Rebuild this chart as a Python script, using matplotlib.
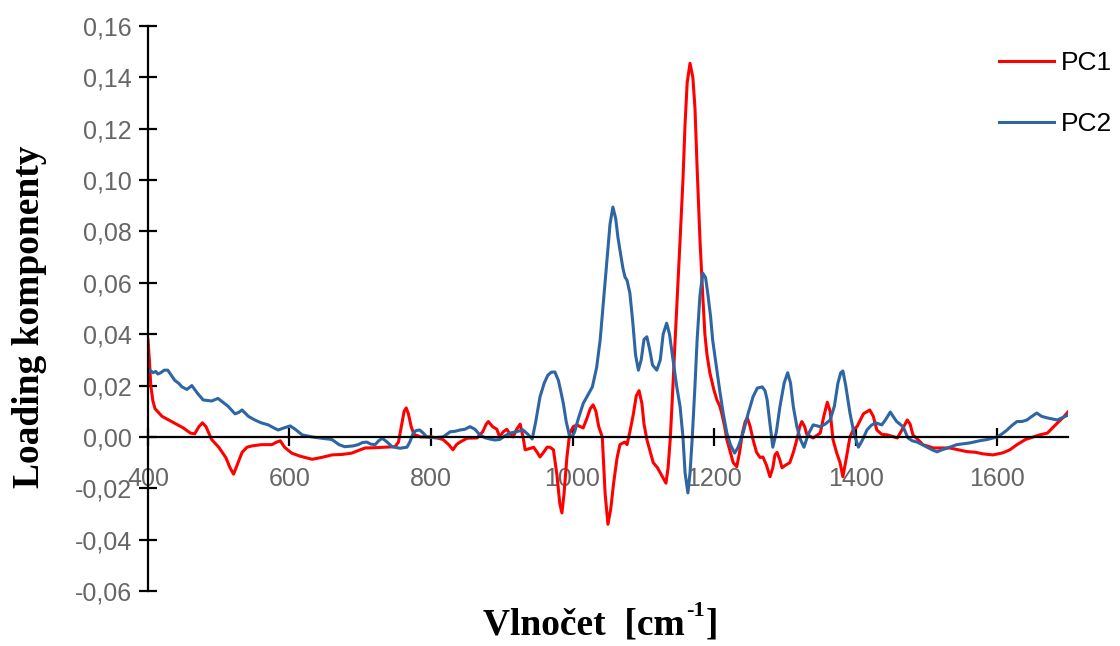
import matplotlib
matplotlib.use("Agg")
import matplotlib.pyplot as plt
from matplotlib.ticker import FuncFormatter, MultipleLocator

# Loading values
pc1_x = [400, 402, 404, 407, 410, 415, 420, 430, 440, 450, 460, 466, 472, 477, 482, 490, 500, 510, 516, 521,
         526, 533, 540, 547, 560, 575, 582, 587, 593, 603, 615, 632, 645, 660, 675, 688, 700, 707, 720, 735,
         749, 754, 758, 762, 765, 768, 772, 776, 785, 800, 810, 817, 825, 831, 836, 841, 851, 865, 873, 878,
         881, 887, 893, 897, 902, 907, 912, 916, 921, 926, 930, 933, 940, 945, 950, 954, 959, 964, 968, 973,
         978, 982, 985, 988, 992, 996, 1001, 1006, 1011, 1015, 1020, 1025, 1029, 1033, 1037, 1042, 1046, 1050,
         1054, 1058, 1063, 1067, 1070, 1074, 1077, 1081, 1086, 1090, 1094, 1098, 1101, 1105, 1110, 1114, 1120,
         1124, 1128, 1132, 1135, 1138, 1141, 1145, 1149, 1152, 1156, 1159, 1162, 1166, 1170, 1173, 1176, 1180,
         1184, 1187, 1190, 1194, 1200, 1204, 1208, 1211, 1215, 1218, 1223, 1227, 1232, 1236, 1240, 1244, 1247,
         1251, 1255, 1260, 1265, 1269, 1274, 1279, 1283, 1286, 1289, 1293, 1296, 1301, 1307, 1312, 1317, 1321,
         1324, 1328, 1331, 1340, 1350, 1355, 1360, 1364, 1368, 1373, 1378, 1382, 1387, 1392, 1397, 1402, 1411,
         1420, 1425, 1430, 1437, 1445, 1459, 1466, 1473, 1477, 1481, 1488, 1495, 1510, 1533, 1545, 1557, 1570,
         1580, 1594, 1608, 1618, 1628, 1640, 1651, 1660, 1671, 1680, 1685, 1693, 1700]
pc1_y = [0.038, 0.030, 0.020, 0.014, 0.011, 0.0095, 0.008, 0.0065, 0.005, 0.0035, 0.0015, 0.0012, 0.004,
         0.0055, 0.004, -0.001, -0.004, -0.008, -0.012, -0.0145, -0.011, -0.006, -0.004, -0.0035, -0.003,
         -0.003, -0.002, -0.0015, -0.004, -0.0063, -0.0075, -0.0087, -0.008, -0.007, -0.0068, -0.0063, -0.005,
         -0.0043, -0.0042, -0.004, -0.0038, -0.002, 0.004, 0.010, 0.0113, 0.009, 0.004, 0.001, 0.0, 0.0,
         -0.0005, -0.001, -0.003, -0.005, -0.003, -0.002, -0.0005, -0.0004, 0.002, 0.005, 0.006, 0.004, 0.003,
         0.0, 0.002, 0.003, 0.001, 0.0, 0.003, 0.005, 0.0, -0.005, -0.0045, -0.004, -0.006, -0.0078, -0.006,
         -0.004, -0.004, -0.005, -0.015, -0.026, -0.0296, -0.022, -0.008, 0.0015, 0.004, 0.0047, 0.004,
         0.0035, 0.007, 0.011, 0.0125, 0.010, 0.004, 0.0, -0.022, -0.034, -0.028, -0.018, -0.008, -0.003,
         -0.0025, -0.002, -0.003, 0.002, 0.009, 0.016, 0.018, 0.013, 0.005, -0.001, -0.006, -0.010, -0.012,
         -0.014, -0.016, -0.018, -0.012, -0.001, 0.015, 0.038, 0.060, 0.077, 0.100, 0.122, 0.138, 0.1455,
         0.140, 0.128, 0.105, 0.077, 0.055, 0.040, 0.032, 0.025, 0.018, 0.0144, 0.012, 0.009, 0.004, -0.001,
         -0.006, -0.010, -0.0116, -0.006, 0.0015, 0.006, 0.0074, 0.004, -0.001, -0.006, -0.008, -0.0078,
         -0.011, -0.0155, -0.012, -0.007, -0.006, -0.009, -0.012, -0.011, -0.010, -0.006, -0.001, 0.004,
         0.006, 0.004, 0.001, -0.0004, 0.0015, 0.008, 0.0135, 0.010, -0.001, -0.006, -0.010, -0.0155, -0.008,
         0.0, 0.003, 0.004, 0.009, 0.0105, 0.008, 0.0027, 0.001, 0.0008, -0.0004, 0.003, 0.0066, 0.005,
         0.0008, -0.001, -0.003, -0.0043, -0.0043, -0.005, -0.0057, -0.006, -0.0066, -0.007, -0.0062, -0.005,
         -0.003, -0.001, 0.0, 0.0008, 0.0015, 0.004, 0.0054, 0.0075, 0.0097]

pc2_x = [400, 403, 407, 411, 414, 418, 423, 428, 433, 438, 443, 448, 455, 462, 470, 478, 490, 499, 506, 513,
         518, 523, 528, 533, 542, 551, 560, 570, 578, 584, 592, 601, 608, 618, 632, 645, 660, 670, 678, 690,
         697, 703, 709, 715, 721, 726, 731, 738, 745, 756, 766, 770, 775, 779, 784, 789, 794, 805, 817, 827,
         834, 841, 848, 855, 862, 869, 876, 883, 890, 897, 905, 912, 920, 930, 937, 943, 948, 954, 960, 965,
         970, 975, 980, 984, 987, 991, 996, 1000, 1003, 1008, 1015, 1021, 1028, 1034, 1039, 1044, 1049, 1053,
         1057, 1061, 1064, 1067, 1071, 1074, 1077, 1081, 1085, 1089, 1093, 1097, 1101, 1105, 1109, 1113, 1119,
         1124, 1128, 1133, 1137, 1142, 1147, 1152, 1156, 1159, 1163, 1166, 1169, 1173, 1176, 1180, 1184, 1188,
         1191, 1195, 1198, 1203, 1208, 1213, 1218, 1223, 1229, 1234, 1241, 1248, 1255, 1261, 1268, 1272, 1275,
         1279, 1283, 1288, 1293, 1299, 1304, 1308, 1312, 1317, 1322, 1327, 1333, 1340, 1350, 1357, 1364, 1370,
         1375, 1379, 1382, 1386, 1392, 1398, 1404, 1410, 1416, 1422, 1428, 1437, 1443, 1449, 1453, 1458, 1467,
         1474, 1480, 1487, 1494, 1501, 1508, 1515, 1522, 1529, 1543, 1562, 1575, 1586, 1600, 1607, 1614, 1621,
         1628, 1635, 1642, 1649, 1656, 1663, 1671, 1678, 1685, 1692, 1700]
pc2_y = [0.025, 0.026, 0.025, 0.0255, 0.0245, 0.025, 0.026, 0.026, 0.024, 0.022, 0.021, 0.0195, 0.0185, 0.020,
         0.017, 0.0144, 0.014, 0.015, 0.0135, 0.012, 0.0105, 0.009, 0.0095, 0.0105, 0.008, 0.0066, 0.0055,
         0.0047, 0.0035, 0.0027, 0.0035, 0.0043, 0.003, 0.0008, 0.0, -0.0005, -0.001, -0.003, -0.0038, -0.0035,
         -0.003, -0.0022, -0.002, -0.0028, -0.003, -0.0015, -0.0005, -0.002, -0.0038, -0.0044, -0.004, -0.002,
         0.0016, 0.0025, 0.0027, 0.0015, 0.0, -0.0003, 0.0, 0.002, 0.0022, 0.0027, 0.003, 0.004, 0.003, 0.0008,
         -0.0003, -0.0008, -0.0012, -0.001, 0.0005, 0.0015, 0.002, 0.0027, 0.001, -0.0008, 0.006, 0.0156, 0.021,
         0.024, 0.0252, 0.0253, 0.022, 0.017, 0.013, 0.006, 0.0, 0.0005, 0.002, 0.007, 0.013, 0.016, 0.0195,
         0.027, 0.0377, 0.054, 0.070, 0.083, 0.0895, 0.085, 0.078, 0.0727, 0.066, 0.0623, 0.061, 0.056, 0.045,
         0.032, 0.026, 0.030, 0.038, 0.039, 0.034, 0.028, 0.026, 0.030, 0.040, 0.0443, 0.040, 0.030, 0.020,
         0.0117, 0.0, -0.014, -0.0218, -0.014, -0.001, 0.020, 0.0377, 0.055, 0.0638, 0.062, 0.056, 0.047,
         0.0377, 0.028, 0.018, 0.009, 0.0016, -0.003, -0.0063, -0.004, 0.0016, 0.009, 0.0156, 0.019, 0.0195,
         0.018, 0.0144, 0.005, -0.004, 0.002, 0.0117, 0.021, 0.025, 0.021, 0.0117, 0.004, -0.001, -0.004, 0.001,
         0.0047, 0.004, 0.005, 0.0066, 0.012, 0.021, 0.025, 0.0257, 0.020, 0.0093, 0.001, -0.004, -0.001,
         0.0027, 0.0045, 0.0055, 0.0047, 0.007, 0.0097, 0.008, 0.006, 0.004, -0.0004, -0.0015, -0.002, -0.003,
         -0.004, -0.005, -0.0058, -0.005, -0.0044, -0.003, -0.0023, -0.0015, -0.001, 0.0, 0.0012, 0.0027,
         0.0045, 0.006, 0.006, 0.0066, 0.008, 0.0093, 0.008, 0.0074, 0.007, 0.0066, 0.0075, 0.0085]

x_ticks = [400, 600, 800, 1000, 1200, 1400, 1600]

plt.rcParams['font.family'] = ['Liberation Sans', 'DejaVu Sans']

fig = plt.figure(figsize=(11.2, 6.46), dpi=100)
ax = fig.add_axes([0.1321, 0.0851, 0.8214, 0.8746])

ax.plot(pc1_x, pc1_y, color='#ff0000', lw=2.2, label='PC1')
ax.plot(pc2_x, pc2_y, color='#2e66a3', lw=2.2, label='PC2')

ax.set_xlim(400, 1700)
ax.set_ylim(-0.06, 0.16)
ax.set_xticks(x_ticks)
ax.yaxis.set_major_locator(MultipleLocator(0.02))
ax.yaxis.set_major_formatter(FuncFormatter(lambda v, p: f"{v:.2f}".replace('.', ',')))

# Excel-like axes: x axis crossing at zero
for side in ['top', 'right']:
    ax.spines[side].set_visible(False)
ax.spines['bottom'].set_position(('data', 0))
ax.spines['bottom'].set_linewidth(1.6)
ax.spines['left'].set_linewidth(1.6)
ax.tick_params(axis='both', direction='inout', length=13, width=1.6, colors='black',
               labelcolor='#666666', labelsize=18)
ax.tick_params(axis='x', pad=15)
ax.tick_params(axis='y', pad=5)

# x label with a small raised "-1"
xl = fig.text(483 / 1120, 1 - 625 / 646, 'Vlnočet  [cm', family='Liberation Serif',
              fontweight='bold', fontsize=27, ha='left', va='center')
fig.canvas.draw()
bb = xl.get_window_extent()
sup = fig.text(bb.x1 / 1120 + 0.001, 1 - 611 / 646, '-1', family='Liberation Serif',
               fontweight='bold', fontsize=16, ha='left', va='center')
fig.canvas.draw()
bb2 = sup.get_window_extent()
fig.text(bb2.x1 / 1120 + 0.001, 1 - 625 / 646, ']', family='Liberation Serif',
         fontweight='bold', fontsize=27, ha='left', va='center')

fig.text(30 / 1120, 1 - 317 / 646, 'Loading komponenty', family='Liberation Serif',
         fontweight='bold', fontsize=27, ha='center', va='center', rotation=90)

fig.legend(loc='upper left', bbox_to_anchor=(0.892, 0.921), frameon=False, fontsize=19,
           handlelength=2.1, handletextpad=0.25, labelspacing=1.4, borderpad=0, borderaxespad=0)

fig.savefig('out.png', dpi=100)
